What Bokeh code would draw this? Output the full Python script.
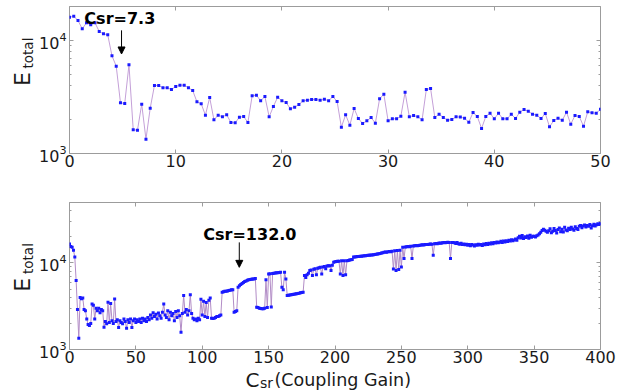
import numpy as np
from math import pi
from bokeh.plotting import figure
from bokeh.layouts import column, row
from bokeh.models import (LinearAxis, LogAxis, FixedTicker, SingleIntervalTicker,
                          LogTickFormatter, CustomJSTickFormatter, Arrow, NormalHead)
from bokeh.core.properties import value
from bokeh.embed import file_html
from bokeh.resources import INLINE

# ---------------- data ----------------
CSR_STEP_TOP = 0.4
E_TOP = [
    16070, 16400, 15030, 12690, 14340, 13770, 14340, 12010, 11470, 11230,
    7320, 5925, 2810, 2770, 6095, 1621, 1608, 2731, 1338, 2517,
    4000, 4000, 3814, 3814, 3686, 3916, 4022, 4022, 3814, 3611,
    2868, 2753, 2183, 3130, 1987, 2183, 2112, 2200, 1881, 1869,
    2095, 2125, 1881, 3241, 3281, 2927, 3194, 2112, 2606, 3149,
    2927, 2827, 2487, 2569, 2714, 2927, 2963, 3006, 3006, 2963,
    3024, 2927, 3194, 2885, 1709, 2200, 1780, 2502, 2040, 1843,
    1947, 2083, 1854, 3049, 3349, 1947, 2028, 2028, 2138, 3487,
    2112, 2169, 2112, 1987, 3686, 3761, 2083, 2227, 2083, 1971,
    2000, 2112, 2100, 2053, 1892, 2306, 2125, 1665, 2125, 2273,
    2028, 2273, 2028, 2028, 2227, 2040, 2320, 2451, 2368, 2227,
    2183, 2040, 2259, 1723, 1959, 2053, 1971, 2320, 1817, 2169,
    2125, 1744, 2339, 2292, 2273, 2466,
]

CSR_STEP_BOTTOM = 1.0
E_BOTTOM = [
    16600, 15500, 15200, 14000, 11700, 6260, 2900, 1350, 4000, 3850,      # 0
    3950, 2900, 2800, 2250, 1950, 1900, 2000, 3350, 3250, 2250,           # 10
    3000, 2800, 3000, 2660, 2900, 2800, 1810, 2100, 1980, 3520,           # 20
    2050, 3400, 2150, 2000, 3840, 2100, 2200, 1800, 2150, 2050,           # 30
    1980, 2250, 2100, 1760, 2200, 2050, 2250, 1800, 2150, 2250,           # 40
    2050, 2200, 2100, 2250, 2050, 2300, 2150, 2250, 2100, 2350,           # 50
    2200, 2500, 2300, 2660, 2400, 2550, 2250, 2650, 2450, 2300,           # 60
    2700, 3360, 2500, 2350, 2800, 2200, 2700, 2450, 2600, 2150,           # 70
    2750, 2350, 2800, 2450, 1580, 2600, 4200, 2700, 2900, 2500,           # 80
    2800, 4300, 2600, 2300, 2200, 2250, 2150, 2300, 2200, 3800,           # 90
    2500, 3600, 2400, 3500, 2350, 3700, 3950, 2300, 2280, 2300,           # 100
    2350, 2400, 2400, 2450, 2500, 4600, 4650, 4700, 4700, 4750,           # 110
    4800, 4850, 4900, 4900, 2700, 2750, 2800, 5240, 5450, 5650,           # 120
    5800, 5950, 6100, 6200, 6300, 6400, 6450, 6500, 6550, 6550,           # 130
    6600, 3080, 3050, 3000, 2980, 2960, 2950, 3000, 6400, 3050,           # 140
    7450, 7500, 3100, 7550, 7600, 7650, 7700, 7700, 7750, 7800,           # 150
    5240, 4900, 7800, 6540, 4200, 4230, 4260, 4290, 4320, 4350,           # 160
    4380, 4410, 4450, 4480, 4520, 4560, 4600, 7150, 6800, 7300,           # 170
    7600, 8160, 8300, 7150, 8450, 8550, 7300, 8700, 8800, 8900,           # 180
    7450, 9000, 9100, 8600, 9200, 9300, 9300, 8200, 9400, 10200,          # 190
    10300, 10400, 10500, 10500, 7450, 10600, 7150, 10600, 7300, 10640,    # 200
    10700, 10800, 10900, 11000, 11700, 11750, 11800, 11850, 11900, 11950, # 210
    12000, 12050, 12100, 12150, 12200, 12250, 12300, 12350, 12400, 12450, # 220
    12500, 12600, 12700, 12800, 12900, 13000, 13100, 13300, 13400, 13300, # 230
    13500, 13600, 13450, 13700, 8500, 13800, 8200, 13900, 8400, 14000,    # 240
    9000, 15200, 11300, 15300, 15400, 15500, 15400, 15600, 11250, 15700,  # 250
    15800, 15900, 15800, 15900, 16000, 16100, 16200, 16100, 16300, 16400, # 260
    16300, 16500, 16600, 16500, 12300, 16700, 16800, 16700, 16900, 17000, # 270
    16900, 17100, 17200, 17100, 17300, 17400, 17300, 11250, 17300, 17200, # 280
    17100, 16800, 17200, 16700, 16500, 16900, 16300, 16600, 16200, 16500, # 290
    16000, 16400, 15800, 16300, 16100, 15700, 16200, 16000, 16500, 16100, # 300
    16300, 15900, 16600, 16200, 16800, 16400, 16900, 16600, 17100, 16700, # 310
    17300, 17000, 17500, 17100, 17400, 17800, 17300, 17900, 17500, 18100, # 320
    17700, 18300, 17900, 18600, 18100, 18400, 18900, 18300, 19600, 20300, # 330
    19500, 20800, 19200, 20100, 19700, 20500, 19300, 20900, 19800, 20400, # 340
    20400, 19900, 20600, 21000, 21800, 22700, 23800, 24500, 23900, 23200, # 350
    22600, 23500, 24800, 22400, 23300, 25100, 23700, 22200, 24300, 25400, # 360
    23000, 24600, 22800, 25800, 24100, 23600, 25200, 24400, 25900, 24700, # 370
    23900, 26200, 25000, 24300, 26500, 27100, 25600, 26800, 27400, 26000, # 380
    27200, 26600, 27800, 25300, 27000, 28100, 26700, 27600, 28400, 27900, # 390
    28500,
]

TOP_XTICK = 10
BOTTOM_XTICK = 50
Y_MAJOR = [1000, 10000]
ANNOT_TOP = "Csr=7.3"
ANNOT_BOTTOM = "Csr=132.0"

x_top = np.round(np.arange(len(E_TOP)) * CSR_STEP_TOP, 2)
x_bot = np.round(np.arange(len(E_BOTTOM)) * CSR_STEP_BOTTOM, 2)
Y_MINOR = [m * d for d in (1000, 10000) for m in range(2, 10)]

FONT = "DejaVu Sans"
TXT = "#1a1a1a"
SPINE = "#9c9c9c"
LINE_C = "#c4a0d8"
MARK_C = "#1a1aff"
BLANK = CustomJSTickFormatter(code="return ''")
LAB_W = 36  # width of the strip that carries the rotated y titles


def style(p, xint):
    p.outline_line_color = SPINE
    p.outline_line_width = 1
    p.xgrid.visible = False
    p.ygrid.visible = False
    p.xaxis.ticker = SingleIntervalTicker(interval=xint, num_minor_ticks=0)
    p.yaxis.ticker = FixedTicker(ticks=Y_MAJOR, minor_ticks=Y_MINOR)
    p.yaxis.formatter = LogTickFormatter()
    for ax in p.xaxis + p.yaxis:
        ax.axis_line_color = None
        ax.major_tick_in = 4
        ax.major_tick_out = 0
        ax.minor_tick_in = 2
        ax.minor_tick_out = 0
        ax.major_tick_line_color = SPINE
        ax.minor_tick_line_color = SPINE
        ax.major_label_text_font = FONT
        ax.major_label_text_font_size = "16px"
        ax.major_label_text_color = TXT
    p.xaxis.major_label_standoff = 1
    p.yaxis.major_label_standoff = 3
    top = LinearAxis(ticker=SingleIntervalTicker(interval=xint, num_minor_ticks=0),
                     formatter=BLANK, axis_line_color=None, major_tick_in=4, major_tick_out=0,
                     major_tick_line_color=SPINE, major_label_standoff=0)
    right = LogAxis(ticker=FixedTicker(ticks=Y_MAJOR, minor_ticks=Y_MINOR), formatter=BLANK,
                    axis_line_color=None, major_tick_in=4, major_tick_out=0,
                    minor_tick_in=2, minor_tick_out=0,
                    major_tick_line_color=SPINE, minor_tick_line_color=SPINE,
                    major_label_standoff=0)
    p.add_layout(top, "above")
    p.add_layout(right, "right")


def put_text(f, x, y, txt, size, angle=0.0, bold=False, color=TXT):
    # (x, y) is the middle of the text's line box at its start
    f.text(x=[x], y=[y], text=[txt], angle=angle, text_font=value(FONT),
           text_font_size=value(size), text_font_style="bold" if bold else "normal",
           text_color=color, text_align="left", text_baseline="middle")


def text_fig(w, h):
    # a blank canvas whose data units are its pixels (y measured up from its bottom)
    f = figure(width=w, height=h, x_range=(0, w), y_range=(0, h), toolbar_location=None,
               output_backend="svg", min_border=0, x_axis_location=None, y_axis_location=None)
    f.outline_line_color = None
    f.grid.visible = False
    return f


def ylabel_fig(h, y_e, y_sub):
    f = text_fig(LAB_W, h)
    put_text(f, 21.5, y_e, "E", "22px", angle=pi / 2)
    put_text(f, 27.5, y_sub, "total", "13.5px", angle=pi / 2)
    return f


# ---------------- top panel ----------------
p1 = figure(width=630 - LAB_W, height=185, x_range=(0, 50), y_range=(1000, 20000),
            y_axis_type="log", output_backend="svg", toolbar_location=None,
            min_border_left=69 - LAB_W, min_border_right=30, min_border_top=6,
            min_border_bottom=32)
style(p1, TOP_XTICK)
p1.line(x_top, E_TOP, line_color=LINE_C, line_width=1)
p1.scatter(x_top, E_TOP, marker="square", size=3, color=MARK_C, line_color=None)
put_text(p1, 1.4, 15700, ANNOT_TOP, "16px", bold=True, color="black")
p1.add_layout(Arrow(x_start=4.9, y_start=12300, x_end=4.9, y_end=7600,
                    line_color="black", line_width=1,
                    end=NormalHead(size=7, fill_color="black", line_color="black")))

# ---------------- bottom panel ----------------
p2 = figure(width=630 - LAB_W, height=183, x_range=(0, 400), y_range=(1000, 50000),
            y_axis_type="log", output_backend="svg", toolbar_location=None,
            min_border_left=69 - LAB_W, min_border_right=30, min_border_top=17,
            min_border_bottom=19)
style(p2, BOTTOM_XTICK)
p2.line(x_bot, E_BOTTOM, line_color="#b28cc6", line_width=1)
p2.scatter(x_bot, E_BOTTOM, marker="square", size=3, color=MARK_C, line_color=None)
put_text(p2, 100.8, 21500, ANNOT_BOTTOM, "16px", bold=True, color="black")
p2.add_layout(Arrow(x_start=127.9, y_start=17300, x_end=127.9, y_end=8900,
                    line_color="black", line_width=1,
                    end=NormalHead(size=7, fill_color="black", line_color="black")))

# ---------------- axis titles ----------------
yl1 = ylabel_fig(185, 85, 107)
yl2 = ylabel_fig(183, 72, 94)
xl = text_fig(630, 23)
put_text(xl, 245, 11.5, "C", "20px")
put_text(xl, 259.5, 8.6, "sr", "14px")
put_text(xl, 274, 11.5, "(Coupling Gain)", "17.5px")

layout = column(row(yl1, p1, spacing=0), row(yl2, p2, spacing=0), xl, spacing=0)
open("out.html", "w").write(file_html(layout, INLINE))
